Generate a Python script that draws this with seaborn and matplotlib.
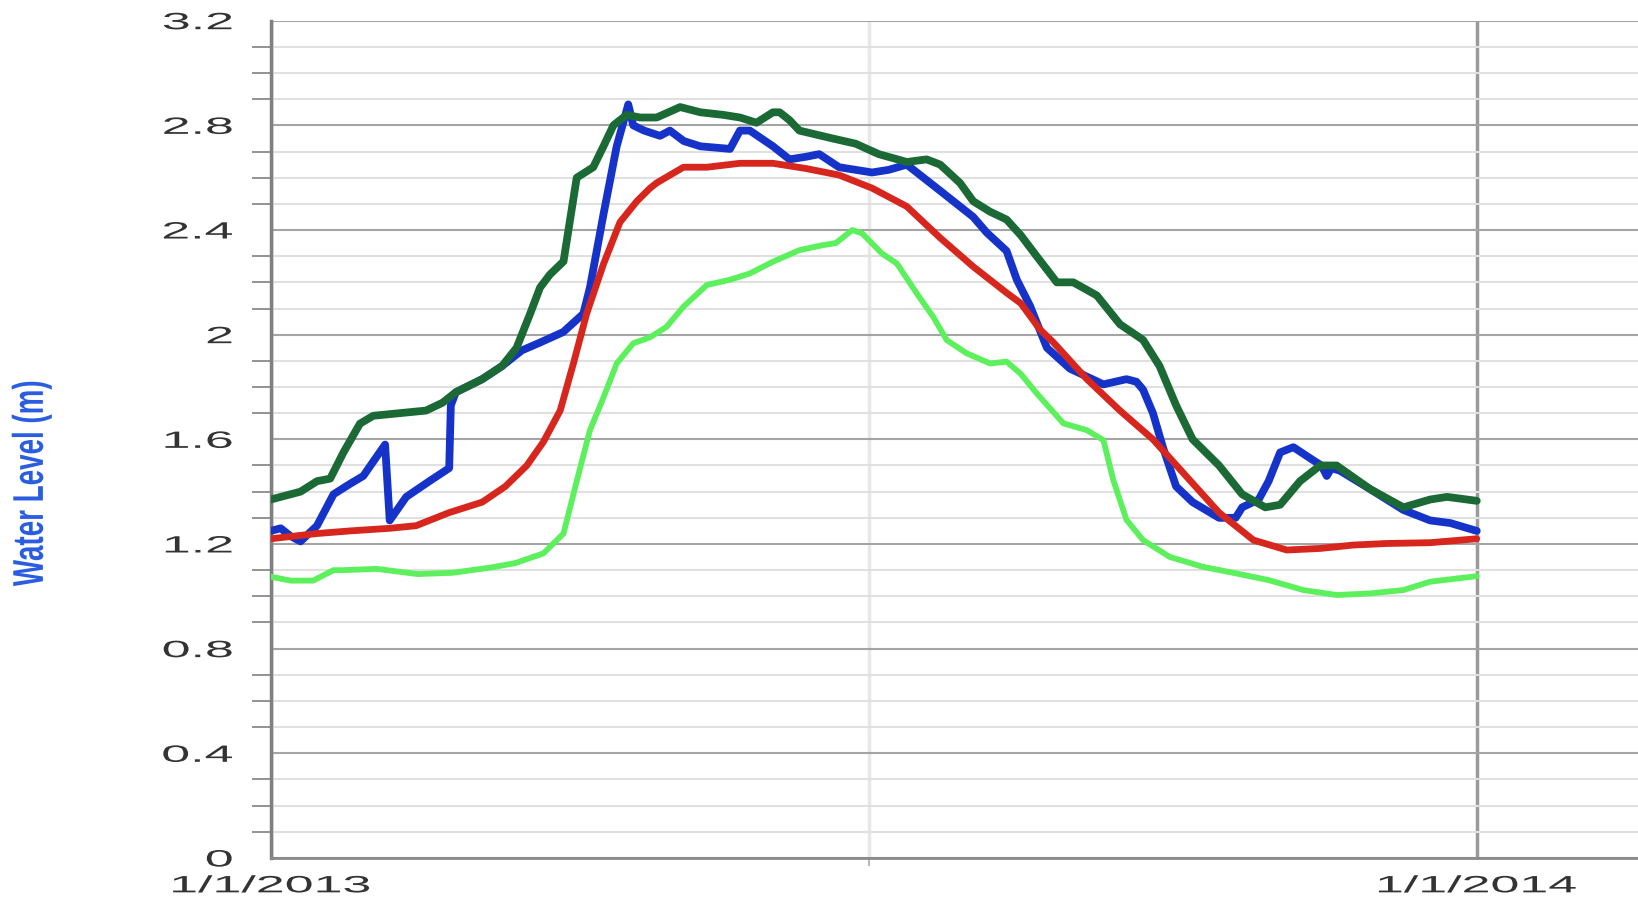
import pandas as pd
import numpy as np
import matplotlib
matplotlib.use('Agg')
import matplotlib.pyplot as plt
import matplotlib.dates as mdates
from matplotlib import patheffects
from matplotlib.transforms import Affine2D
import seaborn as sns

# days since 1 Jan 2013, water level (m)
blue_days = [0, 3, 6, 9, 14, 19, 24, 28, 34.6, 36, 41, 48, 54, 54.5, 56, 64, 70, 76, 81.5,
             88.5, 94.6, 96.6, 100.7, 104.7, 108.2, 109.7, 113, 117.8, 120.8, 125, 130, 139,
             142, 145, 152, 157, 162, 166, 172, 182, 187, 192.5, 202.6, 212.6, 216.7, 222.7,
             225.8, 229.8, 234.9, 241.9, 252, 259, 262, 264, 267, 270, 274, 279, 287, 292,
             294, 299, 302, 305.5, 309.5, 315.5, 318, 319.6, 321, 323.6, 332.7, 342.8, 350.9,
             357, 365]
blue_vals = [1.25, 1.26, 1.23, 1.21, 1.27, 1.39, 1.43, 1.46, 1.58, 1.29, 1.38, 1.44, 1.49, 1.73,
             1.78, 1.83, 1.88, 1.94, 1.97, 2.01, 2.08, 2.18, 2.46, 2.72, 2.88, 2.80, 2.78, 2.76,
             2.78, 2.74, 2.72, 2.71, 2.78, 2.78, 2.72, 2.67, 2.68, 2.69, 2.64, 2.62, 2.63, 2.65,
             2.55, 2.45, 2.39, 2.32, 2.21, 2.11, 1.95, 1.87, 1.81, 1.83, 1.82, 1.79, 1.70, 1.57,
             1.42, 1.36, 1.30, 1.30, 1.34, 1.37, 1.44, 1.55, 1.57, 1.52, 1.50, 1.46, 1.49, 1.48,
             1.41, 1.33, 1.29, 1.28, 1.25]

dkgreen_days = [0, 9, 14, 18, 22, 27, 31, 39, 47, 52, 56, 64, 70, 74.4, 78.5, 81.5, 84.5, 88.6,
                90.6, 92.6, 97.6, 100.7, 103.7, 107.7, 111.8, 116.8, 123.9, 130, 137, 142, 147,
                152, 154, 157, 160, 170, 177, 184, 192.5, 198.5, 202.6, 208.6, 212.6, 217.7,
                222.7, 227, 231.8, 237.9, 242.9, 250, 257, 264, 269, 274, 279, 287, 294, 301,
                305.5, 311.5, 317.6, 322.6, 332.7, 342.8, 350.9, 356, 365]
dkgreen_vals = [1.37, 1.40, 1.44, 1.45, 1.55, 1.66, 1.69, 1.70, 1.71, 1.74, 1.78, 1.83, 1.88,
                1.95, 2.08, 2.18, 2.23, 2.28, 2.44, 2.60, 2.64, 2.72, 2.80, 2.84, 2.83, 2.83,
                2.87, 2.85, 2.84, 2.83, 2.81, 2.85, 2.85, 2.82, 2.78, 2.75, 2.73, 2.69, 2.66,
                2.67, 2.65, 2.58, 2.51, 2.47, 2.44, 2.38, 2.30, 2.20, 2.20, 2.15, 2.04, 1.98,
                1.88, 1.73, 1.60, 1.50, 1.39, 1.34, 1.35, 1.44, 1.50, 1.50, 1.41, 1.34, 1.37,
                1.38, 1.365]

red_days = [0, 14, 24, 36, 44, 54, 64, 71, 77.5, 82.5, 87.6, 91.6, 95.6, 100.7, 105.7, 110.8,
            114.8, 116.8, 124.9, 132, 142, 152, 162, 172, 182, 192.5, 202.6, 212.6, 222.7, 227,
            232.8, 236.9, 247, 257, 267, 277, 287, 297.4, 307.5, 317.6, 327.7, 337.8, 350.9, 365]
red_vals = [1.22, 1.24, 1.25, 1.26, 1.27, 1.32, 1.36, 1.42, 1.50, 1.59, 1.71, 1.89, 2.08, 2.27,
            2.43, 2.51, 2.56, 2.58, 2.64, 2.64, 2.655, 2.655, 2.635, 2.61, 2.56, 2.49, 2.37,
            2.26, 2.16, 2.12, 2.02, 1.97, 1.83, 1.71, 1.60, 1.46, 1.32, 1.215, 1.177, 1.183,
            1.196, 1.202, 1.205, 1.22]

ltgreen_days = [0, 6, 12.8, 19, 22, 32, 44.5, 55, 66.6, 74, 82.5, 88.6, 92.6, 96.6, 100.7,
                104.7, 109.7, 114.8, 119.8, 124.9, 132, 139, 145, 152, 160, 167, 171, 176, 179,
                185, 189.5, 195.5, 200.5, 204.6, 210.6, 217.7, 222.7, 227, 231.8, 239.9, 247,
                252, 255, 259, 264, 272, 282, 292, 302, 312.5, 322.6, 332.7, 342.8, 350.9, 365]
ltgreen_vals = [1.075, 1.06, 1.06, 1.10, 1.10, 1.105, 1.085, 1.09, 1.11, 1.127, 1.164, 1.24,
                1.44, 1.635, 1.76, 1.89, 1.967, 1.99, 2.03, 2.107, 2.19, 2.21, 2.234, 2.279,
                2.323, 2.342, 2.35, 2.40, 2.387, 2.31, 2.272, 2.158, 2.068, 1.979, 1.929, 1.89,
                1.897, 1.85, 1.776, 1.661, 1.635, 1.597, 1.444, 1.292, 1.215, 1.151, 1.113,
                1.088, 1.062, 1.024, 1.005, 1.011, 1.024, 1.056, 1.077]

y_ticks = [0, 0.4, 0.8, 1.2, 1.6, 2.0, 2.4, 2.8, 3.2]
y_tick_labels = ['0', '0.4', '0.8', '1.2', '1.6', '2', '2.4', '2.8', '3.2']


class StretchX(patheffects.AbstractPathEffect):
    """Widen glyphs horizontally around an anchor (the reference text is stretched)."""

    def __init__(self, factor, anchor='center'):
        super().__init__()
        self.factor = factor
        self.anchor = anchor

    def draw_path(self, renderer, gc, tpath, affine, rgbFace=None):
        bb = tpath.get_extents(affine)
        if self.anchor == 'right':
            x0 = bb.x1
        elif self.anchor == 'left':
            x0 = bb.x0
        else:
            x0 = (bb.x0 + bb.x1) / 2
        stretch = Affine2D().translate(-x0, 0).scale(self.factor, 1).translate(x0, 0)
        renderer.draw_path(gc, tpath, affine + stretch, rgbFace)


def to_frame(days, vals):
    start = pd.Timestamp('2013-01-01')
    return pd.DataFrame({'date': start + pd.to_timedelta(days, unit='D'), 'level': vals})


def main():
    sns.set_theme(style='white')
    plt.rcParams['font.family'] = ['Liberation Sans', 'DejaVu Sans']

    fig = plt.figure(figsize=(16.38, 9), dpi=100)
    ax = fig.add_axes([0.1653, 0.0467, 0.8347, 0.9303])

    series = [
        (ltgreen_days, ltgreen_vals, '#5df05d', 4.2),
        (blue_days, blue_vals, '#1633c9', 5.6),
        (red_days, red_vals, '#d7261d', 4.9),
        (dkgreen_days, dkgreen_vals, '#1b6a35', 5.6),
    ]
    for days, vals, color, lw in series:
        df = to_frame(days, vals)
        sns.lineplot(data=df, x='date', y='level', color=color, linewidth=lw,
                     estimator=None, sort=False, ax=ax, zorder=3,
                     solid_joinstyle='round', solid_capstyle='round')

    start = pd.Timestamp('2013-01-01')
    ax.set_xlim(start, start + pd.Timedelta(days=413.8))
    ax.set_ylim(0, 3.2)

    ax.xaxis.set_major_locator(mdates.YearLocator())
    ax.xaxis.set_major_formatter(mdates.DateFormatter('%-m/%-d/%Y'))
    ax.xaxis.set_minor_locator(mdates.MonthLocator(bymonth=7))
    ax.set_yticks(y_ticks)
    ax.set_yticklabels(y_tick_labels)
    ax.set_yticks(np.arange(0, 3.21, 0.1), minor=True)

    ax.set_xlabel('')
    ax.set_ylabel('')

    ax.grid(axis='y', which='major', color='#a4a4a4', linewidth=1.5, zorder=1)
    ax.grid(axis='y', which='minor', color='#e0e0e0', linewidth=1.5, zorder=1)
    ax.grid(axis='x', which='major', color='#9a9a9a', linewidth=2.5, zorder=1)
    ax.grid(axis='x', which='minor', color='#e8e8e8', linewidth=2.5, zorder=1)
    ax.set_axisbelow(True)

    for side in ['top', 'right']:
        ax.spines[side].set_visible(False)
    ax.spines['left'].set_color('#808080')
    ax.spines['left'].set_linewidth(2.5)
    ax.spines['bottom'].set_color('#8a8a8a')
    ax.spines['bottom'].set_linewidth(2)

    ax.tick_params(axis='y', which='major', direction='inout', length=31, width=1.5,
                   color='#7a7a7a', pad=12, labelsize=17, labelcolor='#333333')
    ax.tick_params(axis='y', which='minor', direction='out', length=14, width=1.3,
                   color='#8a8a8a', left=True)
    ax.tick_params(axis='x', which='major', direction='inout', length=11, width=1.5,
                   color='#7a7a7a', pad=7, labelsize=17, labelcolor='#333333')
    ax.tick_params(axis='x', which='minor', direction='out', length=6, width=1.2,
                   color='#aaaaaa', bottom=True)

    for tick in ax.yaxis.get_major_ticks():
        tick.label1.set_path_effects([StretchX(2.2, 'right')])
    for tick in ax.xaxis.get_major_ticks():
        tick.label1.set_path_effects([StretchX(2.2, 'center')])

    fig.text(0.0195, 0.463, 'Water Level (m)', rotation=90, ha='center', va='center',
             fontsize=20, fontweight='bold', color='#2a5ddf',
             family=['Liberation Sans Narrow', 'Liberation Sans', 'DejaVu Sans'],
             path_effects=[StretchX(1.55, 'center')])

    fig.savefig('out.png', dpi=100)
    plt.close(fig)


if __name__ == '__main__':
    main()
